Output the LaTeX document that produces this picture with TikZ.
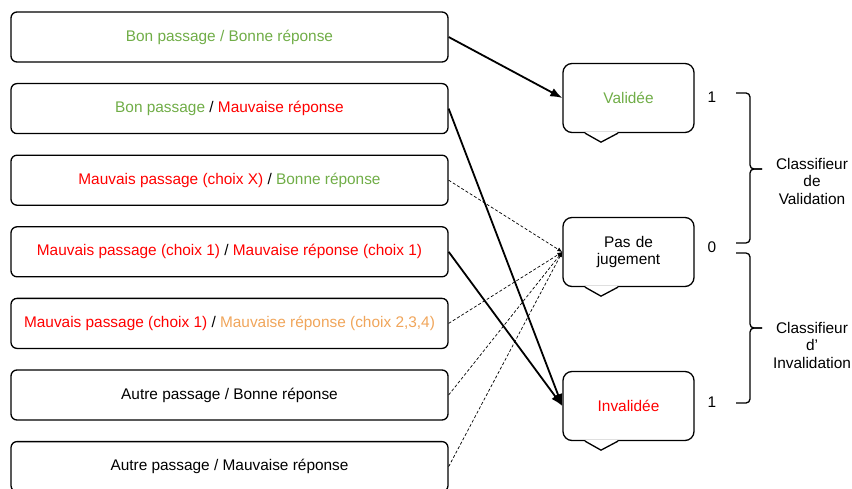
\documentclass[tikz,border=0pt]{standalone}
\usepackage{fontspec}
\setmainfont{Liberation Sans}
\usetikzlibrary{shapes,arrows,arrows.meta}
\definecolor{bon}{RGB}{112,173,71}
\definecolor{mauvais}{RGB}{255,0,0}
\definecolor{moyen}{RGB}{240,165,90}
\tikzstyle{case} = [rectangle, draw, line width=1.3pt, rounded corners=6pt,
  minimum width=437pt, minimum height=50pt, text centered]
\tikzstyle{bulle} = [rectangle, draw, line width=1.3pt, rounded corners=9pt,
  minimum width=131pt, minimum height=69pt, text width=120pt, text centered]
\tikzstyle{line} = [draw, line width=1.8pt, -{Latex[length=12pt,width=9pt]}]
\tikzstyle{pointille} = [draw, line width=0.7pt, dash pattern=on 3pt off 2pt,
  -{Latex[length=5pt,width=4pt]}]
\tikzstyle{accolade} = [draw, line width=1.3pt, rounded corners=4pt]
% petite pointe sous une bulle
\newcommand{\queue}[1]{
  \fill[white] ([xshift=-43.5pt,yshift=1pt]#1.south) -- ([xshift=-27.5pt,yshift=-9pt]#1.south)
    -- ([xshift=-10.5pt,yshift=1pt]#1.south) -- cycle;
  \draw[line width=1.3pt] ([xshift=-43.5pt]#1.south) -- ([xshift=-27.5pt,yshift=-9pt]#1.south)
    -- ([xshift=-10.5pt]#1.south);
}

\begin{document}
\begin{tikzpicture}[x=1pt, y=-1pt, node distance=71.6pt,
  every node/.style={font=\fontsize{15.4}{17.5}\selectfont}]

  \useasboundingbox (0,0) rectangle (852,489);

  \node [case] (bonbon) at (229.5,37) {\color{bon}Bon passage / Bonne réponse};
  \node [case, below of=bonbon] (bonmauv) {{\color{bon}Bon passage} / {\color{mauvais}Mauvaise réponse}};
  \node [case, below of=bonmauv] (mauvbon) {{\color{mauvais}Mauvais passage (choix X)} / {\color{bon}Bonne réponse}};
  \node [case, below of=mauvbon] (mauvmauv) {{\color{mauvais}Mauvais passage (choix 1)} / {\color{mauvais}Mauvaise réponse (choix 1)}};
  \node [case, below of=mauvmauv] (mauvautre) {{\color{mauvais}Mauvais passage (choix 1)} / {\color{moyen}Mauvaise réponse (choix 2,3,4)}};
  \node [case, below of=mauvautre] (autrebon) {Autre passage / Bonne réponse};
  \node [case, below of=autrebon] (autremauv) {Autre passage / Mauvaise réponse};

  \node [bulle] (validee) at (628.5,98) {\color{bon}Validée};
  \node [bulle, below of=validee, node distance=154pt] (pasjug) {Pas de\\jugement};
  \node [bulle, below of=pasjug, node distance=154pt] (invalidee) {\color{mauvais}Invalidée};
  \queue{validee}
  \queue{pasjug}
  \queue{invalidee}

  \path [line] (bonbon.east) -- (validee.west);
  \path [line] (bonmauv.east) -- (invalidee.west);
  \path [line] (mauvmauv.east) -- (invalidee.west);
  \path [pointille] (mauvbon.east) -- (pasjug.west);
  \path [pointille] (mauvautre.east) -- (pasjug.west);
  \path [pointille] (autrebon.east) -- (pasjug.west);
  \path [pointille] (autremauv.east) -- (pasjug.west);

  \node (haut) at (712,97) {1};
  \node (milieu) at (712,247) {0};
  \node (bas) at (712,402) {1};
  \node [align=center] (classval) at (812,181) {Classifieur\\de\\Validation};
  \node [align=center] (classinv) at (812,345) {Classifieur\\d’\\Invalidation};

  \path [accolade] (736,93) -- (750,93) -- (750,169) -- (762,169);
  \path [accolade] (736,243) -- (750,243) -- (750,169) -- (762,169);
  \path [accolade] (736,253) -- (750,253) -- (750,328) -- (762,328);
  \path [accolade] (736,403) -- (750,403) -- (750,328) -- (762,328);

\end{tikzpicture}
\end{document}
